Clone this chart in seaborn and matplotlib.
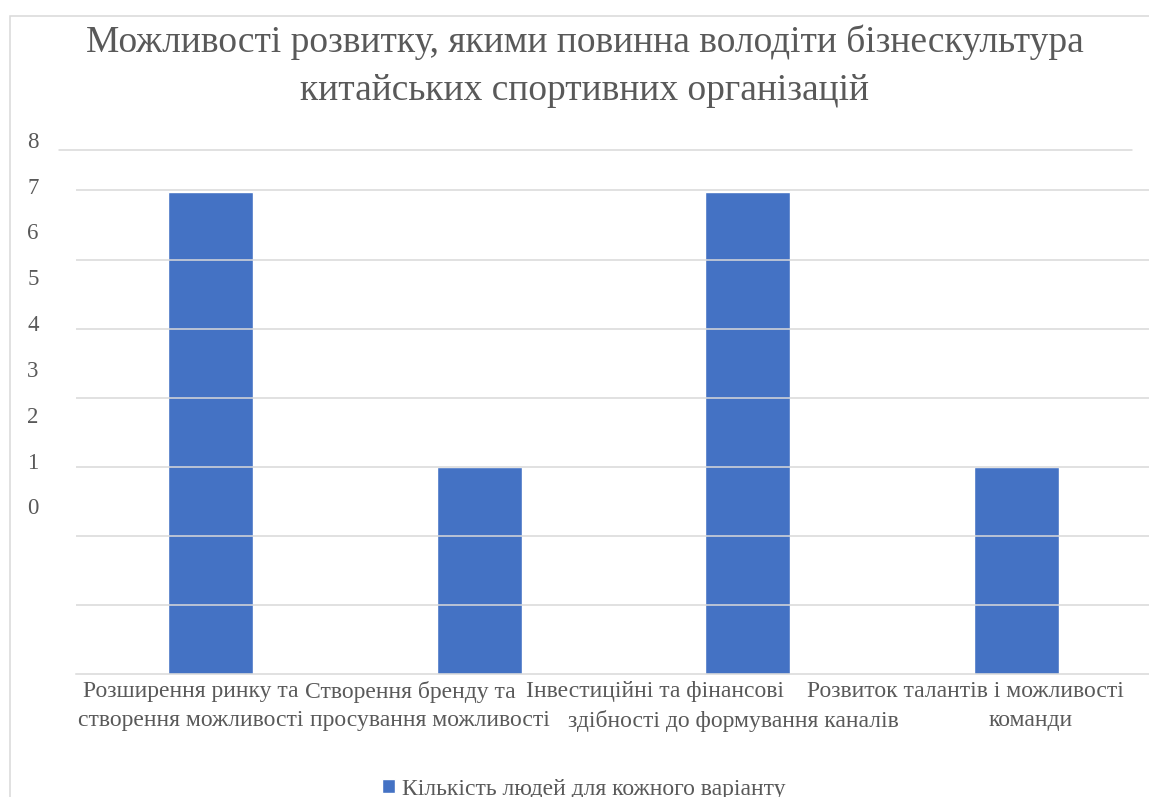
import matplotlib
matplotlib.use("Agg")
import matplotlib.pyplot as plt
import seaborn as sns
import numpy as np
import pandas as pd
from matplotlib.transforms import ScaledTranslation
from matplotlib.patches import Rectangle

# ---- data ----
categories = [
    "Розширення ринку та\nстворення можливості",
    "Створення бренду та\nпросування можливості",
    "Інвестиційні та фінансові\nздібності до формування каналів",
    "Розвиток талантів і можливості\nкоманди",
]
values = [7, 1, 7, 1]
y_tick_values = [0, 1, 2, 3, 4, 5, 6, 7, 8]
series_label = "Кількість людей для кожного варіанту"
title_lines = [
    "Можливості розвитку, якими повинна володіти бізнескультура",
    "китайських спортивних організацій",
]

# ---- style ----
TEXT = "#595959"
GRID = "#d9d9d9"
BAR = "#4472C4"
W, H = 1149, 797

sns.set_theme(style="white")
plt.rcParams["font.family"] = ["Liberation Serif", "DejaVu Serif"]

fig = plt.figure(figsize=(W / 100, H / 100), dpi=100)
fig.patch.set_facecolor("white")

# chart border (partly cut off at right/bottom)
fig.add_artist(Rectangle((10 / W, -0.05), 1.2, (H - 16) / H + 0.05,
                         transform=fig.transFigure, fill=False,
                         edgecolor=GRID, linewidth=1.1))

ax = fig.add_axes([76 / W, (H - 674) / H, 1075 / W, (674 - 145.7) / H])
ax.set_facecolor("none")

y_bottom, y_top = -3.526, 7.916
grid_step = 1.507

df = pd.DataFrame({"cat": categories, "val": values})
df["span"] = df["val"] - y_bottom
sns.barplot(data=df, x="cat", y="span", bottom=y_bottom, color=BAR,
            saturation=1, width=0.316, errorbar=None, ax=ax,
            label=series_label, zorder=2)

ax.set_xlim(-0.5, 3.5)
ax.set_ylim(y_bottom, y_top)

# gridlines
for k in range(1, 8):
    ax.axhline(y_bottom + k * grid_step, color=GRID, lw=1.1, zorder=3)
ax.axhline(y_top, xmin=-0.0158, xmax=0.982, color=GRID, lw=1.1, zorder=3,
           clip_on=False)

for s in ["left", "right", "top"]:
    ax.spines[s].set_visible(False)
ax.spines["bottom"].set_color(GRID)
ax.spines["bottom"].set_linewidth(1.1)
ax.spines["bottom"].set_zorder(4)

ax.set_xlabel("")
ax.set_ylabel("")
ax.set_yticks(y_tick_values)
ax.set_yticklabels([str(v) for v in y_tick_values])
ax.tick_params(axis="y", length=0, pad=27, labelsize=16.5, labelcolor=TEXT)
for lab in ax.get_yticklabels():
    lab.set_transform(lab.get_transform() +
                      ScaledTranslation(0, 6 / 100, fig.dpi_scale_trans))

# category labels: first line as major tick labels, second line as minor
line1 = [c.split("\n")[0] for c in categories]
line2 = [c.split("\n")[1] for c in categories]
ax.xaxis.remove_overlapping_locs = False
ax.set_xticks(range(len(categories)))
ax.set_xticklabels(line1)
ax.set_xticks(range(len(categories)), minor=True)
ax.set_xticklabels(line2, minor=True)
ax.tick_params(axis="x", which="major", length=0, pad=5, labelsize=17,
               labelcolor=TEXT)
ax.tick_params(axis="x", which="minor", length=0, pad=26, labelsize=17,
               labelcolor=TEXT)
dx1 = [-20, -69, -93, -51]
dx2 = [-20, -49, -15, 14]
for lab, dx in zip(ax.get_xticklabels(), dx1):
    lab.set_transform(lab.get_transform() +
                      ScaledTranslation(dx / 100, 0, fig.dpi_scale_trans))
for lab, dx in zip(ax.get_xticklabels(minor=True), dx2):
    lab.set_transform(lab.get_transform() +
                      ScaledTranslation(dx / 100, 0, fig.dpi_scale_trans))

# title
fig.text(585 / W, (H - 52) / H, title_lines[0], ha="center", va="baseline",
         fontsize=27, color=TEXT)
fig.text(585 / W, (H - 100) / H, title_lines[1], ha="center", va="baseline",
         fontsize=27, color=TEXT)

# legend
ax.legend(loc="center", bbox_to_anchor=(584 / W, (H - 789) / H),
          bbox_transform=fig.transFigure, frameon=False, fontsize=17,
          labelcolor=TEXT, handlelength=0.55, handleheight=0.55,
          handletextpad=0.3, borderpad=0)

fig.savefig("out.png", dpi=100, facecolor="white")
